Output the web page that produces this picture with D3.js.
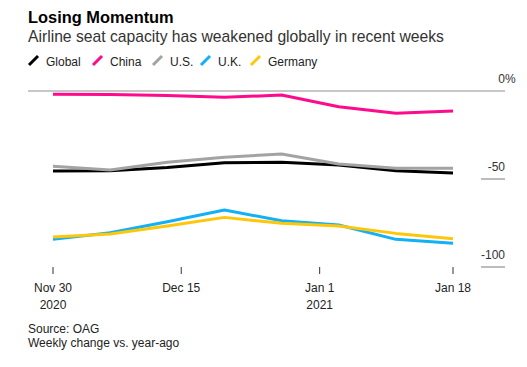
<!DOCTYPE html>
<html>
<head>
<meta charset="utf-8">
<script src="https://cdn.jsdelivr.net/npm/d3@7"></script>
<style>
  body { margin: 0; background: #fff; }
  text { font-family: "Liberation Sans", Arial, Helvetica, sans-serif; }
</style>
</head>
<body>
<svg width="527" height="367"></svg>
<script>
// weekly data, change vs year-ago (%)
const weeks = ['2020-11-30', '2020-12-07', '2020-12-14', '2020-12-21', '2020-12-28', '2021-01-04', '2021-01-11', '2021-01-18'];
const globalVals = [-45.5, -45.3, -43.5, -40.7, -40.5, -42.0, -45.3, -46.6];
const chinaVals = [-1.9, -2.0, -2.5, -3.6, -2.3, -8.9, -12.7, -11.4];
const usVals = [-42.8, -44.9, -40.5, -37.7, -35.8, -41.5, -43.9, -43.9];
const ukVals = [-84.3, -80.5, -74.3, -67.6, -73.7, -76.1, -84.3, -86.5];
const germanyVals = [-83.0, -81.2, -76.7, -71.8, -75.2, -76.7, -80.9, -83.9];

const seriesNames = ['Global', 'China', 'U.S.', 'U.K.', 'Germany'];
const seriesColors = ['#000000', '#ff0a8c', '#a3a3a3', '#12b0f5', '#ffc60a'];

const yTicks = [0, -50, -100];
const tickDates = [new Date(2020, 10, 30), new Date(2020, 11, 15, 17), new Date(2021, 0, 1, 16), new Date(2021, 0, 18)];
const tickLabels = ['Nov 30', 'Dec 15', 'Jan 1', 'Jan 18'];
const yearLabels = ['2020', '', '2021', ''];

const svg = d3.select('svg');

const parse = d3.timeParse('%Y-%m-%d');
const dates = weeks.map(parse);
const allVals = [globalVals, chinaVals, usVals, ukVals, germanyVals];

const x = d3.scaleTime()
  .domain(d3.extent(dates))
  .range([53, 453]);

const y = d3.scaleLinear()
  .domain([0, -100])
  .range([91, 267]);

// title block
svg.append('text')
  .attr('x', 28).attr('y', 23)
  .attr('font-size', 16.4).attr('font-weight', 'bold')
  .attr('fill', '#000')
  .text('Losing Momentum');

svg.append('text')
  .attr('x', 28).attr('y', 42)
  .attr('font-size', 15.7)
  .attr('fill', '#333')
  .text('Airline seat capacity has weakened globally in recent weeks');

// legend
const legendX = [28, 92, 152, 200, 250];
const legend = svg.append('g');
seriesNames.forEach((name, i) => {
  const g = legend.append('g').attr('transform', `translate(${legendX[i]},66)`);
  g.append('line')
    .attr('x1', 1).attr('y1', -1)
    .attr('x2', 10).attr('y2', -10)
    .attr('stroke', seriesColors[i])
    .attr('stroke-width', 3);
  g.append('text')
    .attr('x', 18).attr('y', 0)
    .attr('font-size', 12)
    .attr('fill', '#222')
    .text(name);
});

// y gridlines and labels (right side)
const yAxis = svg.append('g');
yTicks.forEach(t => {
  yAxis.append('line')
    .attr('x1', t === 0 ? 28 : 481)
    .attr('x2', 505)
    .attr('y1', y(t)).attr('y2', y(t))
    .attr('stroke', '#8f8f8f')
    .attr('stroke-width', 1.2);
  yAxis.append('text')
    .attr('x', 505).attr('y', y(t) - 8)
    .attr('text-anchor', 'end')
    .attr('font-size', 12)
    .attr('fill', '#333')
    .text(t === 0 ? '0' : t);
});
// percent sign hangs outside the label column
yAxis.append('text')
  .attr('x', 505).attr('y', y(0) - 8)
  .attr('font-size', 12)
  .attr('fill', '#333')
  .text('%');

// x axis ticks
const xAxis = svg.append('g');
tickDates.forEach((d, i) => {
  xAxis.append('line')
    .attr('x1', x(d)).attr('x2', x(d))
    .attr('y1', 267).attr('y2', 274)
    .attr('stroke', '#333')
    .attr('stroke-width', 1);
  xAxis.append('text')
    .attr('x', x(d)).attr('y', 292)
    .attr('text-anchor', 'middle')
    .attr('font-size', 12)
    .attr('fill', '#222')
    .text(tickLabels[i]);
  xAxis.append('text')
    .attr('x', x(d)).attr('y', 309)
    .attr('text-anchor', 'middle')
    .attr('font-size', 12)
    .attr('fill', '#222')
    .text(yearLabels[i]);
});

// lines
const line = d3.line()
  .x((d, i) => x(dates[i]))
  .y(d => y(d));

allVals.forEach((vals, i) => {
  svg.append('path')
    .attr('d', line(vals))
    .attr('fill', 'none')
    .attr('stroke', seriesColors[i])
    .attr('stroke-width', 3)
    .attr('stroke-linejoin', 'round');
});

// footer
svg.append('text')
  .attr('x', 28).attr('y', 333)
  .attr('font-size', 12)
  .attr('fill', '#222')
  .text('Source: OAG');

svg.append('text')
  .attr('x', 28).attr('y', 347)
  .attr('font-size', 12)
  .attr('fill', '#222')
  .text('Weekly change vs. year-ago');
</script>
</body>
</html>
